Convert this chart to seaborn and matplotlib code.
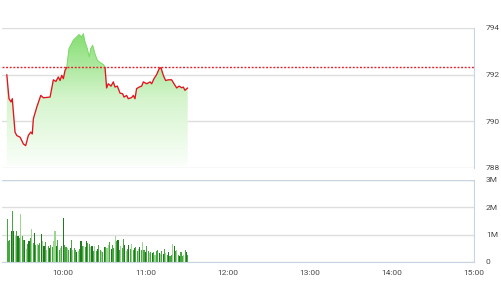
import numpy as np
import pandas as pd
import matplotlib
matplotlib.use("Agg")
import matplotlib.pyplot as plt
import seaborn as sns
from matplotlib.patches import Rectangle
from matplotlib.colors import LinearSegmentedColormap

# ---- data (minutes after 9:00) ----
price_min = [18.8, 20.4, 21.9, 22.8, 24.8, 26.1, 28.5, 30.9, 32.6, 34.5, 36.3, 37.4, 38.2,
             40.7, 43.6, 45.5, 50.4, 52.8, 54.7, 56.4, 57.7, 58.9, 60.1, 61.3, 62.6, 64.2,
             65.5, 67.4, 69.9, 71.5, 73.5, 74.7, 75.9, 77.6, 79.0, 80.1, 81.5, 83.2, 84.9,
             86.9, 89.3, 90.5, 91.7, 92.9, 94.9, 96.6, 97.8, 99.5, 101.5, 103.4, 104.4,
             106.3, 107.5, 110.0, 111.2, 112.4, 113.6, 115.5, 117.3, 118.5, 121.0, 123.4,
             124.6, 126.3, 128.2, 130.1, 131.4, 133.1, 134.8, 136.7, 139.2, 140.9, 142.9,
             144.6, 146.5, 147.7, 148.9, 150.9]
price_val = [792.00, 790.97, 790.83, 790.97, 789.54, 789.39, 789.32, 789.03, 788.96, 789.39,
             789.54, 789.46, 790.11, 790.61, 791.11, 791.01, 791.04, 791.78, 791.71, 791.90,
             791.75, 791.97, 791.83, 792.18, 792.33, 793.12, 793.26, 793.48, 793.62, 793.72,
             793.62, 793.76, 793.41, 793.12, 792.76, 793.12, 793.26, 792.90, 792.62, 792.52,
             792.44, 792.33, 791.43, 791.61, 791.51, 791.69, 791.47, 791.51, 791.21, 791.18,
             791.04, 791.11, 790.97, 791.02, 791.11, 790.97, 791.40, 791.47, 791.51, 791.69,
             791.61, 791.69, 791.61, 791.83, 792.00, 792.26, 792.30, 791.97, 791.75, 791.78,
             791.78, 791.61, 791.43, 791.51, 791.44, 791.47, 791.33, 791.43]
ref_price = 792.33

vol_m = [1.56, 0.76, 0.80, 1.13, 1.87, 1.15, 0.94, 1.12, 0.94, 0.88, 1.74, 0.94, 0.79, 0.82,
         0.48, 0.67, 0.76, 0.88, 1.19, 0.70, 1.07, 0.64, 0.67, 0.64, 0.70, 1.03, 0.76, 0.58,
         0.72, 0.45, 0.58, 0.52, 0.64, 0.55, 0.76, 1.15, 0.60, 0.82, 0.45, 0.52, 0.60, 1.60,
         0.64, 0.54, 0.52, 0.45, 0.50, 0.79, 0.45, 0.50, 0.45, 0.36, 0.39, 0.48, 0.76, 0.60,
         0.60, 0.55, 0.76, 0.70, 0.67, 0.55, 0.60, 0.39, 0.58, 0.39, 0.49, 0.64, 0.45, 0.42,
         0.36, 0.55, 0.55, 0.52, 0.64, 0.72, 0.48, 0.64, 0.52, 0.94, 0.76, 0.80, 0.43, 0.60,
         0.52, 0.85, 0.64, 0.39, 0.48, 0.64, 0.48, 0.67, 0.45, 0.52, 0.55, 0.39, 0.48, 0.55,
         0.45, 0.72, 0.45, 0.36, 0.58, 0.39, 0.33, 0.36, 0.33, 0.36, 0.27, 0.39, 0.45, 0.33,
         0.29, 0.39, 0.31, 0.48, 0.33, 0.27, 0.36, 0.23, 0.27, 0.67, 0.60, 0.39, 0.45, 0.27,
         0.23, 0.36, 0.23, 0.27, 0.43, 0.36, 0.27]
vol_min = list(range(19, 19 + len(vol_m)))
vol_shade = ("mmmdmdlmdmlmmdlmdmlmdmlmmdldmlmdmmlldmmlmdmmlmdmlmmdlmdmlmdmmldmlmdmml"
             "mdmllmdmmlmdmlmmdlmdmlmdmmldmlmdmmlmdmlmmdlmdmlmdmmldmlmdmmlmdmllmd")

hour_ticks = [60, 120, 180, 240, 300, 360]
hour_labels = ["10:00", "11:00", "12:00", "13:00", "14:00", "15:00"]
price_ticks = [788, 790, 792, 794]
vol_ticks = [0, 1, 2, 3]
vol_labels = ["0", "1M", "2M", "3M"]

# ---- style ----
sns.set_style("white")
plt.rcParams["font.family"] = ["Roboto", "DejaVu Sans"]
TXT = "#4a4a4a"
GRID = "#dedede"
EDGE = "#c8d4e2"

W, H = 501, 300
fig = plt.figure(figsize=(W / 100, H / 100), dpi=100)
x0, x1 = 1.6, 474
axp = fig.add_axes([x0 / W, 1 - 168 / H, (x1 - x0) / W, (168 - 28) / H])
axv = fig.add_axes([x0 / W, 1 - 262 / H, (x1 - x0) / W, (262 - 180) / H])

XMIN, XMAX = 15, 360

# ---- price panel ----
df = pd.DataFrame({"t": price_min, "p": price_val})
grad = np.linspace(0, 1, 256).reshape(-1, 1)
cmap = LinearSegmentedColormap.from_list("g", ["#fcfffb", "#d4f4cc", "#80dc6b"])
im = axp.imshow(grad, extent=[XMIN, XMAX, 788, 794], origin="lower", aspect="auto",
                cmap=cmap, zorder=1, interpolation="bilinear")
poly = axp.fill_between(df["t"], df["p"], 788.1, color="none", lw=0)
im.set_clip_path(poly.get_paths()[0], axp.transData)

sns.lineplot(data=df, x="t", y="p", ax=axp, color="#e0141e", lw=0.95, estimator=None,
             zorder=3)
red = axp.lines[-1]
red.set_clip_path(Rectangle((XMIN, 787), XMAX - XMIN, ref_price - 787, transform=axp.transData))
sns.lineplot(data=df, x="t", y="p", ax=axp, color="#7bd867", lw=0.7, estimator=None,
             zorder=3)
grn = axp.lines[-1]
grn.set_clip_path(Rectangle((XMIN, ref_price), XMAX - XMIN, 10, transform=axp.transData))

axp.axhline(ref_price, color="#e3202a", lw=1.0, ls=(0, (1.4, 1.2)), zorder=4)

axp.set_xlim(XMIN, XMAX)
axp.set_ylim(788, 794)
axp.set_yticks(price_ticks)
axp.set_yticklabels([str(v) for v in price_ticks])
axp.yaxis.tick_right()
axp.tick_params(axis="y", length=0, pad=8.6, labelsize=6, labelcolor=TXT)
axp.set_xticks([])
axp.set_xlabel("")
axp.set_ylabel("")
axp.grid(axis="y", color=GRID, lw=1.0, zorder=0)
axp.set_axisbelow(True)
for s in ["top", "left", "bottom"]:
    axp.spines[s].set_visible(False)
axp.spines["right"].set_color(EDGE)
axp.spines["right"].set_linewidth(0.8)

# ---- volume panel ----
cmapping = {"d": "#1f7a1f", "m": "#45a840", "l": "#9bd691"}
shades = (vol_shade * 2)[:len(vol_m)]
axv.bar(vol_min, [v * 1e6 for v in vol_m], width=0.8,
        color=[cmapping[c] for c in shades], lw=0, zorder=2, antialiased=False)
axv.set_xlim(XMIN, XMAX)
axv.set_ylim(0, 3e6)
axv.set_yticks([v * 1e6 for v in vol_ticks])
axv.set_yticklabels(vol_labels)
axv.yaxis.tick_right()
axv.tick_params(axis="y", length=0, pad=8.6, labelsize=6, labelcolor=TXT)
axv.set_xticks(hour_ticks)
axv.set_xticklabels(hour_labels)
axv.tick_params(axis="x", length=4, width=0.8, color=EDGE, pad=2, labelsize=6,
                labelcolor=TXT)
axv.grid(axis="y", color=GRID, lw=1.0, zorder=0)
axv.set_axisbelow(True)
for s in ["top", "left"]:
    axv.spines[s].set_visible(False)
axv.spines["right"].set_color(EDGE)
axv.spines["bottom"].set_color(EDGE)
axv.spines["right"].set_linewidth(0.8)
axv.spines["bottom"].set_linewidth(0.8)
axv.axhline(3e6, color=EDGE, lw=0.9, zorder=1)

fig.savefig("out.png", dpi=100)
